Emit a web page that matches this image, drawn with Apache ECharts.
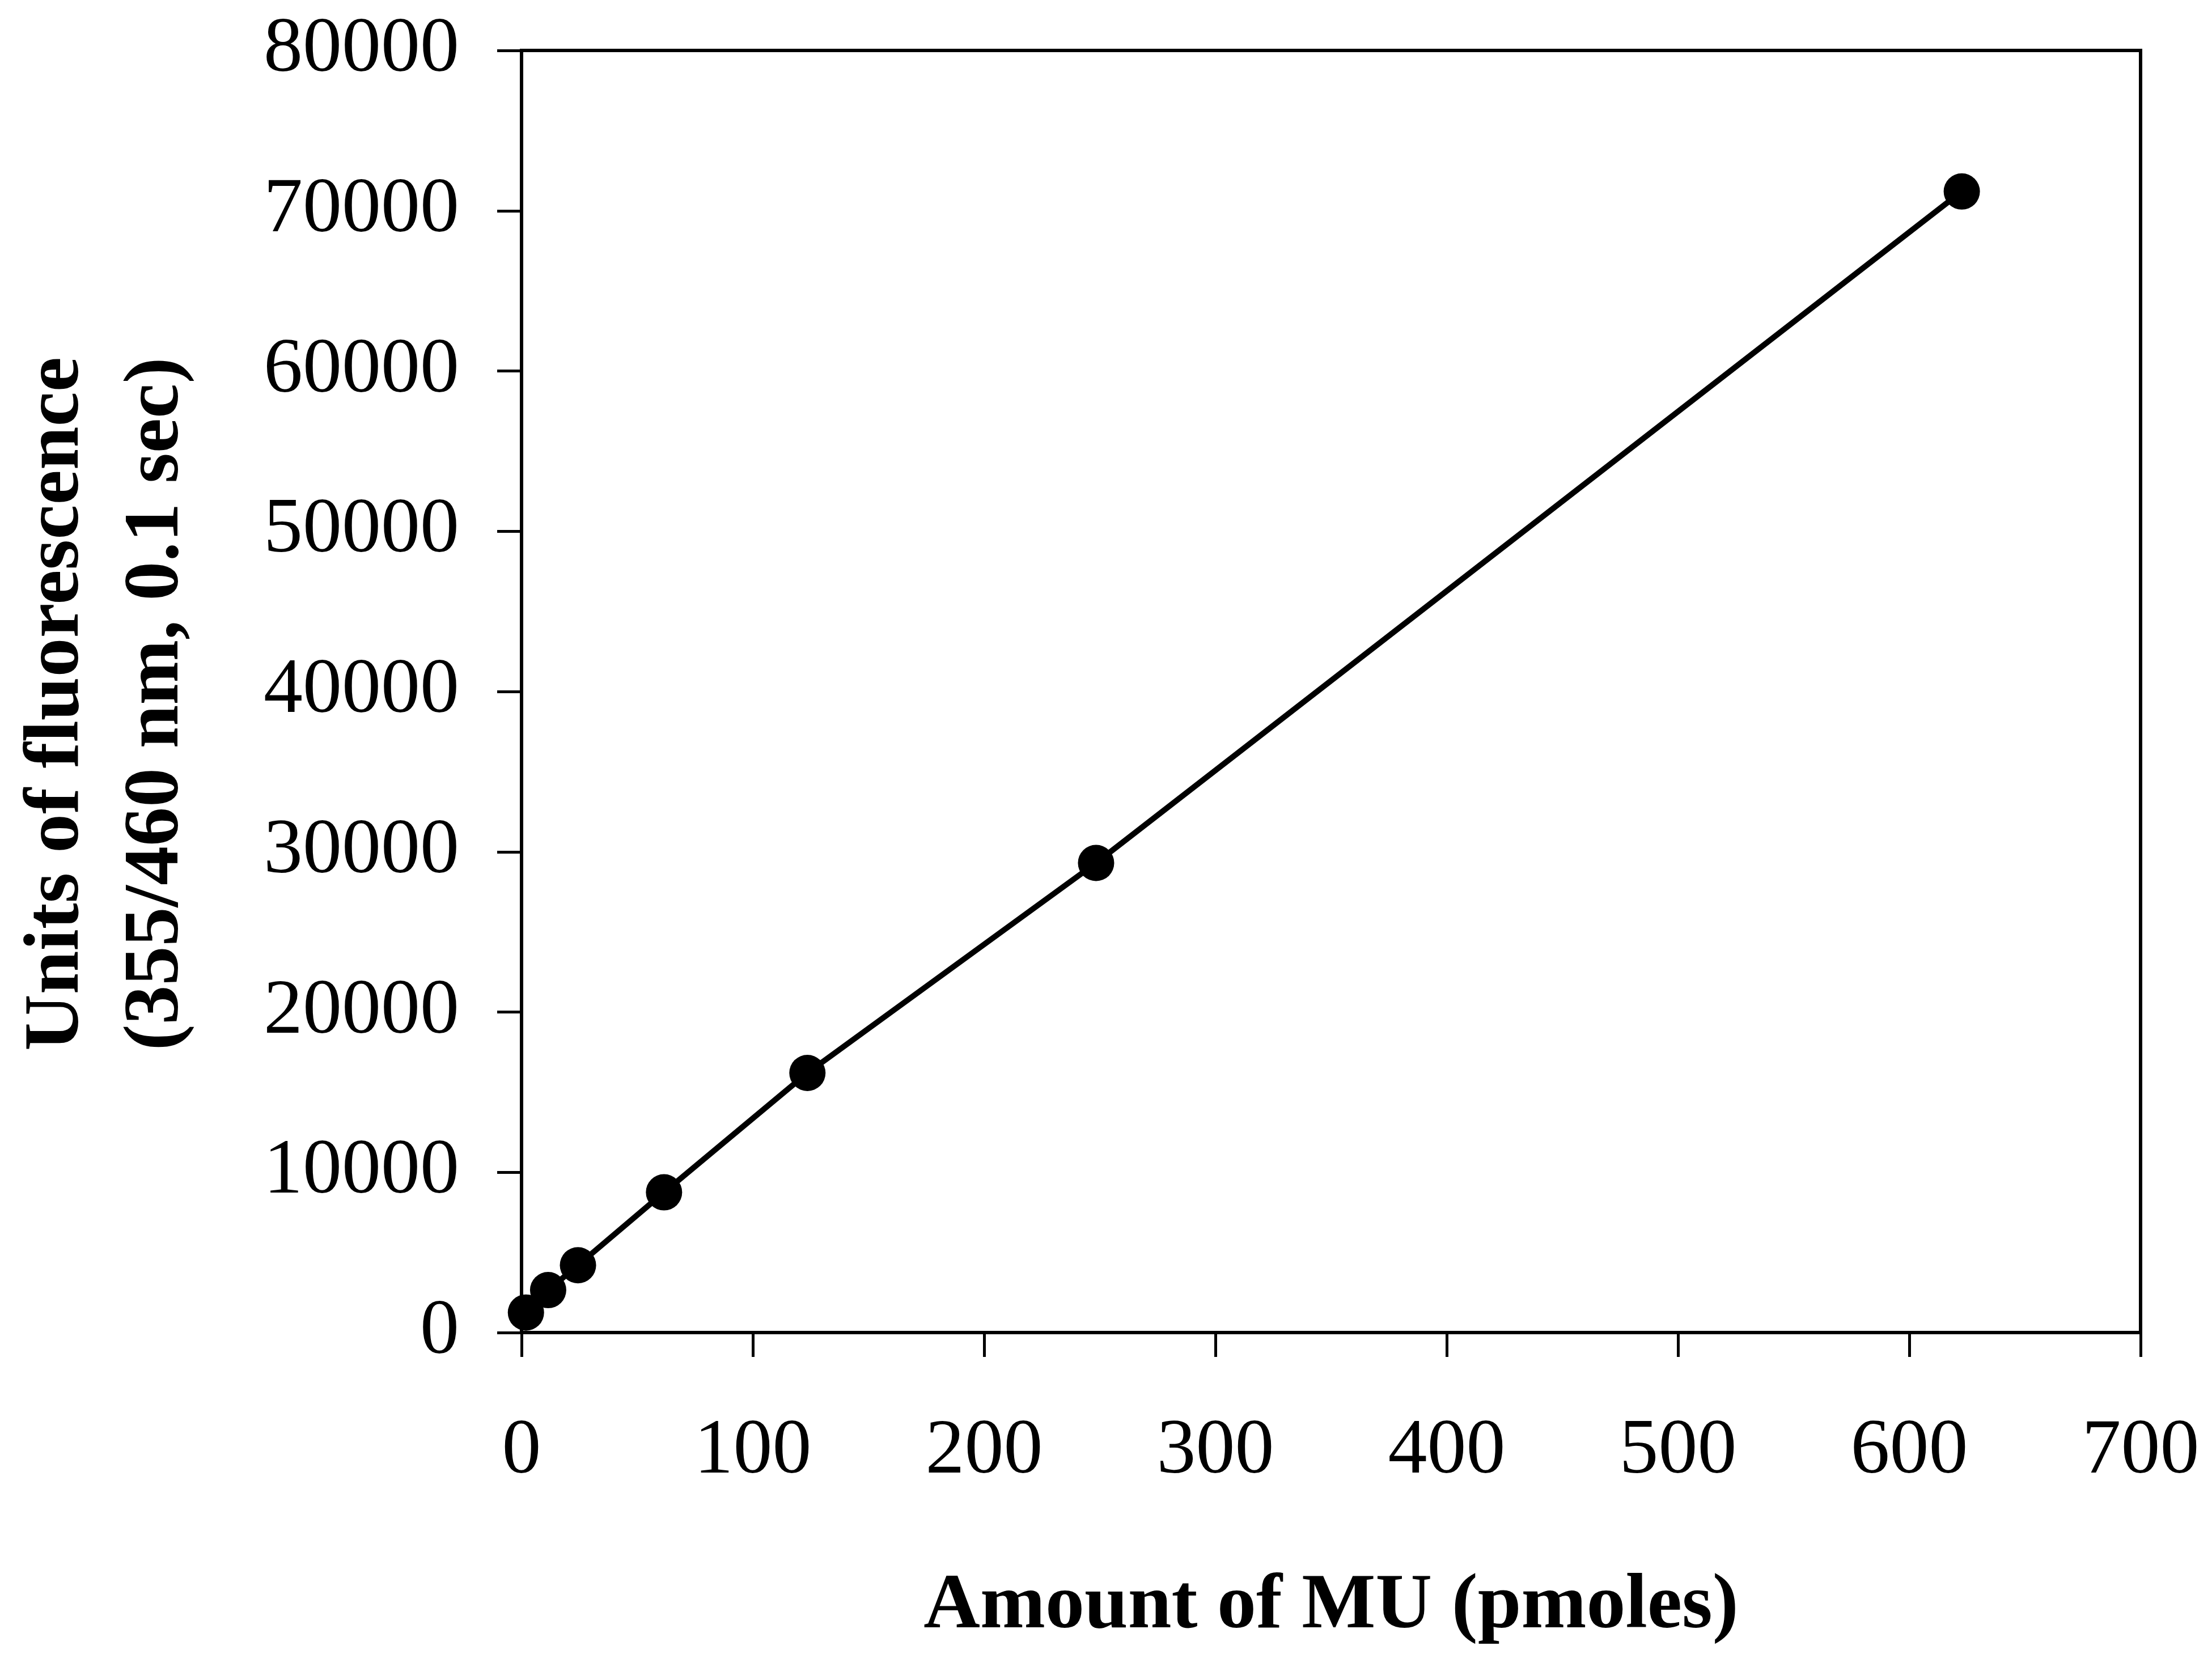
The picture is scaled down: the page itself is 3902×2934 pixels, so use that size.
<!DOCTYPE html>
<html>
<head>
<meta charset="utf-8">
<script src="https://cdn.jsdelivr.net/npm/echarts@6/dist/echarts.min.js"></script>
<style>
html,body{margin:0;padding:0;background:#fff;}
#chart{width:3902px;height:2934px;}
</style>
</head>
<body>
<div id="chart"></div>
<script>
// Data
const mu_pmoles = [1.9, 11.5, 24.4, 61.6, 123.6, 248.4, 622.7];
const fluorescence = [1250, 2650, 4200, 8750, 16200, 29300, 71200];
const xTitle = 'Amount of MU (pmoles)';
const yTitle = 'Units of fluorescence\n(355/460 nm, 0.1 sec)';

const points = mu_pmoles.map((x, i) => [x, fluorescence[i]]);
const FONT = "'Liberation Serif', 'Times New Roman', serif";

const chart = echarts.init(document.getElementById('chart'), null, {renderer: 'canvas'});
chart.setOption({
  backgroundColor: '#ffffff',
  animation: false,
  grid: {
    left: 920, right: 126, top: 89, bottom: 583,
    show: true, borderColor: '#000', borderWidth: 6, backgroundColor: 'transparent'
  },
  xAxis: {
    type: 'value', min: 0, max: 700, interval: 100,
    name: xTitle, nameLocation: 'middle', nameGap: 415,
    nameTextStyle: {fontFamily: FONT, fontWeight: 'bold', fontSize: 138, color: '#000'},
    axisLine: {show: true, onZero: false, lineStyle: {color: '#000', width: 6}},
    axisTick: {show: true, inside: false, length: 43, lineStyle: {color: '#000', width: 5}},
    axisLabel: {margin: 142, fontFamily: FONT, fontSize: 138, color: '#000',
      formatter: v => String(v)},
    splitLine: {show: false}
  },
  yAxis: {
    type: 'value', min: 0, max: 80000, interval: 10000,
    name: yTitle, nameLocation: 'middle', nameGap: 555, nameRotate: 90,
    nameTextStyle: {fontFamily: FONT, fontWeight: 'bold', fontSize: 138, lineHeight: 176, color: '#000', padding: [0, 44, 0, 0]},
    axisLine: {show: true, onZero: false, lineStyle: {color: '#000', width: 6}},
    axisTick: {show: true, inside: false, length: 43, lineStyle: {color: '#000', width: 5}},
    axisLabel: {margin: 110, fontFamily: FONT, fontSize: 138, color: '#000',
      formatter: v => String(v)},
    splitLine: {show: false}
  },
  series: [{
    type: 'line',
    data: points,
    symbol: 'circle',
    symbolSize: 64,
    showSymbol: true,
    itemStyle: {color: '#000'},
    lineStyle: {color: '#000', width: 10},
    z: 5
  }]
});
</script>
</body>
</html>
